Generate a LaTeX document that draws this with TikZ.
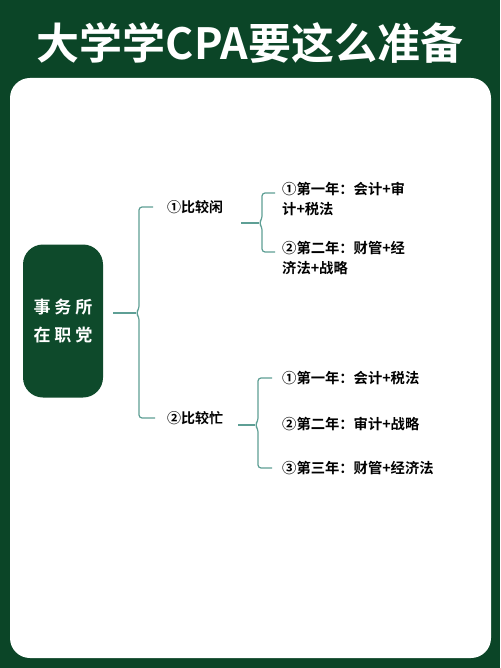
\documentclass[tikz,border=0pt]{standalone}
\usepackage{fontspec}
\setmainfont{Noto Sans CJK SC}[BoldFont={* Bold}]
\definecolor{bggreen}{HTML}{0B4527}
\definecolor{nodegreen}{HTML}{0E4A2B}
\definecolor{bracecol}{HTML}{5E9F95}
\begin{document}
\begin{tikzpicture}[x=1pt,y=-1pt,
  title/.style={text=white,font=\fontsize{43}{46}\selectfont\bfseries,inner sep=0pt},
  central/.style={fill=nodegreen,text=white,rounded corners=20pt,minimum width=80pt,minimum height=153pt,inner sep=0pt,align=center,font=\fontsize{17}{28}\selectfont\bfseries},
  branch/.style={anchor=west,inner sep=0pt,font=\fontsize{14}{20}\selectfont\bfseries,text=black},
  item/.style={anchor=west,inner sep=0pt,align=left,font=\fontsize{14.3}{20}\selectfont\bfseries,text=black},
  brace/.style={draw=bracecol,line width=1.2pt,rounded corners=3pt}]
\fill[bggreen] (0,0) rectangle (500,668);
\useasboundingbox (0,0) rectangle (500,668);
\fill[white,rounded corners=20pt] (10,78) rectangle (491,658);
\node[title] (title) at (250,43) {大学学CPA要这么准备};
\node[central] (c) at (63,321) {事\hspace{4pt}务\hspace{4pt}所\\在\hspace{4pt}职\hspace{4pt}党};
\node[branch] (b1) at (167,207) {①比较闲};
\node[branch] (b2) at (167,418) {②比较忙};
\node[item] (s1) at (282,199) {①第一年：会计+审\\计+税法};
\node[item] (s2) at (282,258) {②第二年：财管+经\\济法+战略};
\node[item] (t1) at (282,378) {①第一年：会计+税法};
\node[item] (t2) at (282,424) {②第二年：审计+战略};
\node[item] (t3) at (282,468) {③第三年：财管+经济法};
% main brace
\draw[brace,rounded corners=0pt] ([xshift=10pt]c.east|-0,313) coordinate (m0) -- (136,313) coordinate (m1);
\draw[brace] ([xshift=-14pt]b1.west) -- (139,207) -- (139,309) -- (136,313) -- (139,317) -- (139,418) -- ([xshift=-12pt]b2.west);
% upper sub brace
\draw[brace,rounded corners=0pt] ([xshift=18pt]b1.east|-0,223) coordinate (u0) -- (259,223);
\draw[brace] (275,193) -- (262,193) -- (262,219) -- (259,223) -- (262,227) -- (262,252) -- (275,252);
% lower sub brace
\draw[brace,rounded corners=0pt] ([xshift=15pt]b2.east|-0,425) coordinate (l0) -- (255,425);
\draw[brace] ([xshift=-10pt]t1.west) -- (258,378) -- (258,421) -- (255,425) -- (258,429) -- (258,468) -- ([xshift=-10pt]t3.west);
\end{tikzpicture}
\end{document}
